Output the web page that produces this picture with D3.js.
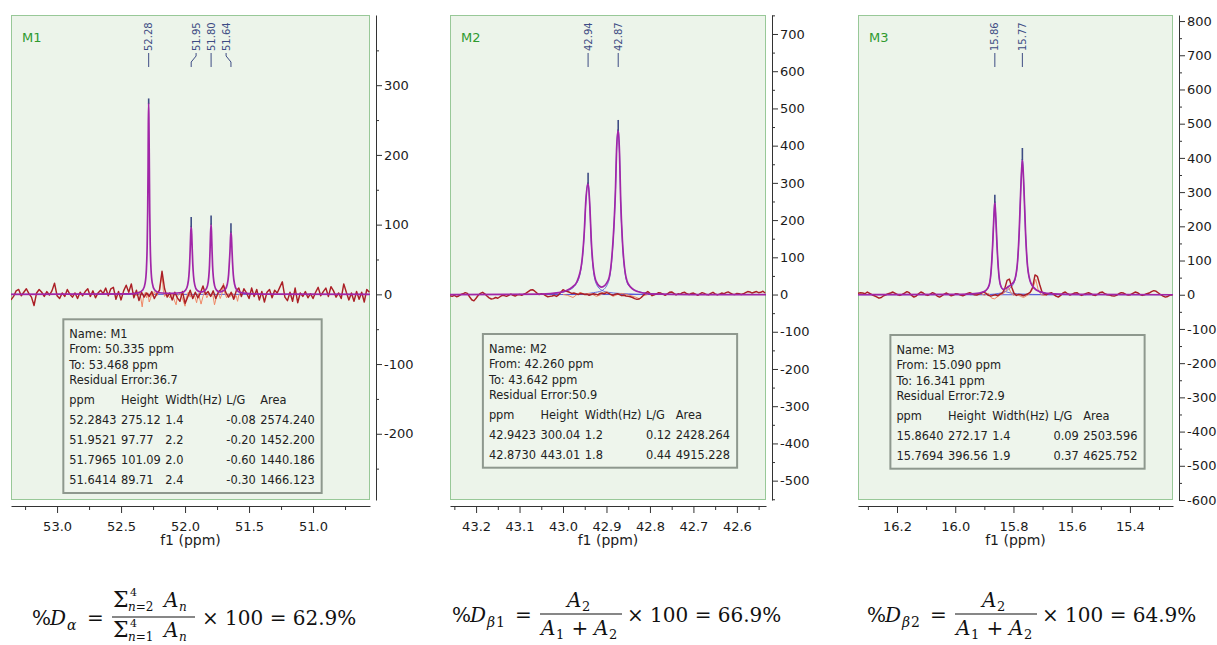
<!DOCTYPE html>
<html><head><meta charset="utf-8">
<script src="https://cdn.jsdelivr.net/npm/d3@7"></script>
<style>
html,body{margin:0;padding:0;background:#fff;overflow:hidden;}
svg{display:block;}
</style></head><body>
<svg id="chart" width="1217" height="645"></svg>
<script>
// ======================= DATA =======================
// ---- M1 ----
const m1Meta = ["M1", 50.335, 53.468, 36.7];           // name, from, to, residual error
const m1PeakPpm = [52.2843, 51.9521, 51.7965, 51.6414];
const m1PeakHeight = [275.12, 97.77, 101.09, 89.71];
const m1PeakWidth = [1.4, 2.2, 2.0, 2.4];
const m1PeakLG = [-0.08, -0.20, -0.60, -0.30];
const m1PeakArea = [2574.240, 1452.200, 1440.186, 1466.123];
const m1TopHeight = [281, 111, 113, 102];               // experimental apex
const m1NoiseStart = 53.36, m1NoiseStep = 0.02;
const m1Noise = [-8,-3,5,7,-2,3,8,1,-4,-16, 2,7,3,-3,4,-1,5,16,-2,-6, 2,-3,7,0,-4,2,-6,3,-2,4,
  8,-3,5,-5,2,6,1,9,-2,8, 10,-7,4,-8,5,13,3,15,-5,6, -9,3,-4,2,-3,4,-6,1,6,33,
  8,-4,2,-8,3,-5,-10,4,-13,-4, 6,-6,3,-5,2,12,0,4,-3,5, -6,3,7,13,2,-4,3,-7,5,9,
  -3,8,2,-6,9,-3,7,-8,4,-11, 3,7,-5,6,2,10,18,-4,-9,3, -10,9,-12,2,-3,4,-5,1,-6,3,
  10,-2,4,9,-3,11,5,-4,2,-6, 15,3,-8,2,-10,4,-7,3,-11,7,3];
const m1Fit = [[53.36,0],[52.44,0.6],[52.364,2.1],[52.329,6.5],[52.312,16],[52.302,36],[52.296,70],[52.292,119],[52.289,182],[52.287,244],[52.2843,275.12],[52.282,244],[52.279,182],[52.276,119],[52.272,70],[52.266,36],[52.256,16],[52.239,6.5],[52.204,2.3],[52.10,1.5],
  [52.022,2.6],[51.997,5.8],[51.980,13.3],[51.970,26.6],[51.964,44.7],[51.960,64.1],[51.956,86.5],[51.9521,97.77],[51.948,86.5],[51.944,64.1],[51.940,44.7],[51.934,26.6],[51.924,13.3],[51.907,6],[51.882,3.6],
  [51.866,3.6],[51.842,6],[51.825,12.2],[51.815,24.6],[51.809,41.5],[51.805,62],[51.801,87.3],[51.7965,101.09],[51.793,87.3],[51.789,62],[51.785,41.5],[51.779,24.6],[51.769,12.2],[51.752,5.5],[51.727,3.5],
  [51.712,4.2],[51.687,7],[51.670,14.5],[51.660,28],[51.654,45.5],[51.649,62],[51.645,80.7],[51.6414,89.71],[51.637,80.7],[51.633,62],[51.629,45.5],[51.623,28],[51.613,14.5],[51.596,6.3],[51.571,2.8],[51.50,1],[51.35,0.3],[50.555,0]];
const m1Resid = [[52.42,0],[52.40,3],[52.38,-2],[52.36,4],[52.345,-6],[52.335,-18],[52.325,-4],[52.31,3],[52.30,-5],[52.29,2],[52.28,-11],[52.27,-6],[52.26,2],[52.25,-3],[52.24,4],[52.22,-2],[52.20,5],[52.18,30],[52.17,6],[52.16,-3],[52.14,2],[52.12,-5],[52.10,1],[52.085,-8],[52.07,-15],[52.06,-3],[52.04,2],[52.02,-6],[52.00,-17],[51.99,-5],[51.975,3],[51.96,-4],[51.95,2],[51.94,-6],[51.925,-2],[51.91,-12],[51.895,1],[51.875,-14],[51.86,-3],[51.845,4],[51.83,-5],[51.815,1],[51.80,-3],[51.785,2],[51.77,-15],[51.755,-4],[51.74,3],[51.725,-6],[51.71,2],[51.70,16],[51.69,2],[51.675,-5],[51.66,1],[51.645,-3],[51.63,2],[51.615,-6],[51.60,-2],[51.59,-10],[51.58,-1],[51.56,0]];
const m1Comps = [];
const m1XTicks = [53.0, 52.5, 52.0, 51.5, 51.0];
const m1XMinor = [53.25, 52.75, 52.25, 51.75, 51.25, 50.75];
const m1YTicks = [-200, -100, 0, 100, 200, 300];
const m1YMinor = [-250, -150, -50, 50, 150, 250, 350];

// ---- M2 ----
const m2Meta = ["M2", 42.260, 43.642, 50.9];
const m2PeakPpm = [42.9423, 42.8730];
const m2PeakHeight = [300.04, 443.01];
const m2PeakWidth = [1.2, 1.8];
const m2PeakLG = [0.12, 0.44];
const m2PeakArea = [2428.264, 4915.228];
const m2TopHeight = [327, 469];
const m2NoiseStart = 43.26, m2NoiseStep = 0.005;
const m2Noise = [-3,-5,-2,-6,-4,0,2,5,3,-6, -14,-17,-10,-2,3,6,2,-4,-9,-12, -11,-8,-10,-6,-2,-3,-5,-2,1,-2,
  -4,-1,0,-2,1,4,8,12,13,9, 4,0,2,1,-3,-6,-5,-4,-2,-5, -1,6,13,10,8,6,3,4,2,0,
  3,2,0,1,-2,0,2,1,-1,3, 4,2,5,3,0,-2,1,2,0,-3, -2,-4,-5,-6,-8,-11,-13,-12,-8,-2,
  4,8,3,-3,-1,2,5,4,1,-2, 2,6,7,3,-1,2,1,5,6,2, 0,3,4,1,-2,2,5,3,0,-1,
  3,6,2,-1,1,4,2,5,7,4, 1,0,3,2,0,2,5,8,7,4, 6,8,5,6,9,4];
const m2Fit = [[43.26,0],[43.05,1],[43.01,5],[42.9917,11],[42.9787,20],[42.9687,33],[42.9572,83],[42.9513,164],[42.9474,253],[42.9423,300.04],[42.9382,236],[42.935,146],[42.9304,74],[42.9228,33],[42.9113,20],[42.8961,38],[42.8883,92],[42.883,181],[42.8791,289],[42.8768,388],[42.873,443.01],[42.870,380],[42.8673,253],[42.8634,146],[42.8586,74],[42.8501,29],[42.8308,9],[42.80,2],[42.70,0],[42.533,0]];
const m2Comp1 = [[43.02,3],[42.99,10],[42.9687,30],[42.9572,80],[42.9513,160],[42.9474,250],[42.9423,300],[42.9382,232],[42.935,140],[42.9304,68],[42.9228,27],[42.9113,12],[42.8961,6],[42.87,3],[42.83,1],[42.78,0]];
const m2Comp2 = [[43.0,0],[42.95,2],[42.93,5],[42.9113,10],[42.8961,32],[42.8883,86],[42.883,178],[42.8791,287],[42.8768,386],[42.873,443],[42.870,378],[42.8673,250],[42.8634,142],[42.8586,70],[42.8501,26],[42.8308,10],[42.81,4],[42.78,1],[42.72,0]];
const m2Resid = [[43.0,0],[42.99,-2],[42.977,-8],[42.969,-1],[42.961,6],[42.95,1],[42.94,3],[42.93,-1],[42.923,-5],[42.912,0],[42.9,8],[42.892,2],[42.885,-5],[42.875,0],[42.865,3],[42.85,-1],[42.835,-6],[42.823,-12],[42.815,-3],[42.805,0]];
const m2XTicks = [43.2, 43.1, 43.0, 42.9, 42.8, 42.7, 42.6];
const m2XMinor = [43.25, 43.15, 43.05, 42.95, 42.85, 42.75, 42.65, 42.55];
const m2YTicks = [-500, -400, -300, -200, -100, 0, 100, 200, 300, 400, 500, 600, 700];
const m2YMinor = [-550, -450, -350, -250, -150, -50, 50, 150, 250, 350, 450, 550, 650, 750];

// ---- M3 ----
const m3Meta = ["M3", 15.090, 16.341, 72.9];
const m3PeakPpm = [15.8640, 15.7694];
const m3PeakHeight = [272.17, 396.56];
const m3PeakWidth = [1.4, 1.9];
const m3PeakLG = [0.09, 0.37];
const m3PeakArea = [2503.596, 4625.752];
const m3TopHeight = [292, 429];
const m3NoiseStart = 16.334, m3NoiseStep = 0.008;
const m3Noise = [4,6,5,3,8,4,0,-3,-6,-10, -8,-3,0,3,5,8,4,0,-2,1, 5,9,6,-2,-7,-4,3,8,5,0,
  -2,2,6,3,-4,-7,-3,2,5,1, -3,-1,3,2,-1,-3,0,4,6,3, 0,-1,2,5,8,4,-2,-4,-2,0,
  -3,2,5,18,42,46,22,4,-2,1, 0,-3,0,3,8,22,58,54,30,8, 2,0,4,6,1,-4,-7,-2,5,8,
  3,-1,2,5,6,1,-2,1,4,6, 3,-1,-2,2,7,8,3,0,-1,-3, -4,-2,3,6,5,1,-1,0,4,8,
  6,1,-2,0,3,5,9,12,10,5, 0,-4,-7,-5,-1,0];
const m3Fit = [[16.334,0],[15.98,1],[15.933,3],[15.9052,8],[15.8932,14],[15.8829,30],[15.876,78],[15.8715,145],[15.8674,225],[15.864,272.17],[15.8606,225],[15.8565,145],[15.852,78],[15.8451,30],[15.8348,16],[15.8265,18],[15.8174,24],[15.7986,38],[15.7872,85],[15.7804,181],[15.7745,317],[15.7694,396.56],[15.7643,317],[15.7584,180],[15.7516,83],[15.7402,34],[15.7214,14],[15.6871,4],[15.6,1],[15.252,0]];
const m3Comp1 = [[15.95,1],[15.9052,7],[15.8932,13],[15.8829,29],[15.876,77],[15.8715,144],[15.8674,224],[15.864,272],[15.8606,224],[15.8565,144],[15.852,77],[15.8451,29],[15.8348,13],[15.8229,8],[15.80,4],[15.77,2],[15.70,0.5],[15.65,0]];
const m3Comp2 = [[15.95,0],[15.88,1],[15.85,4],[15.8348,7],[15.8229,12],[15.8174,16],[15.7986,34],[15.7872,83],[15.7804,180],[15.7745,317],[15.7694,396],[15.7643,317],[15.7584,180],[15.7516,83],[15.7402,34],[15.7214,14],[15.6871,4],[15.62,1],[15.55,0]];
const m3Resid = [[15.93,0],[15.91,3],[15.90,-2],[15.885,4],[15.875,-10],[15.865,-12],[15.855,-6],[15.845,0],[15.835,3],[15.826,10],[15.8184,25],[15.81,8],[15.80,-2],[15.79,2],[15.775,-5],[15.765,-8],[15.755,-3],[15.745,2],[15.735,15],[15.7234,45],[15.715,14],[15.705,0],[15.695,-2],[15.685,0]];
const m3XTicks = [16.2, 16.0, 15.8, 15.6, 15.4];
const m3XMinor = [16.3, 16.1, 15.9, 15.7, 15.5, 15.3];
const m3YTicks = [-600, -500, -400, -300, -200, -100, 0, 100, 200, 300, 400, 500, 600, 700, 800];
const m3YMinor = [-550, -450, -350, -250, -150, -50, 50, 150, 250, 350, 450, 550, 650, 750];

const tableHeader = ["ppm", "Height", "Width(Hz)", "L/G", "Area"];

// ======================= STYLE =======================
const SANS = "'DejaVu Sans', Verdana, sans-serif";
const SERIF = "'DejaVu Serif', serif";
const BG = "#ecf4ea", BORDER = "#98c898";
const RED = "#ab1f26", PURPLE = "#a126a8", BLUE = "#5558d8", ORANGE = "#f08866", NAVY = "#3e4c84";
const svg = d3.select("#chart");
const defs = svg.append("defs");

function drawPanel(o) {
  const x = d3.scaleLinear().domain(o.xDomain).range([o.left, o.right]);
  const y = d3.scaleLinear().domain(o.yDomain).range([o.bottom, o.top]);
  const g = svg.append("g");
  const clipId = "clip" + o.meta[0];
  defs.append("clipPath").attr("id", clipId).append("rect")
    .attr("x", o.left).attr("y", o.top).attr("width", o.right - o.left).attr("height", o.bottom - o.top);
  g.append("rect").attr("x", o.left + 0.5).attr("y", o.top + 0.5)
    .attr("width", o.right - o.left - 1).attr("height", o.bottom - o.top - 1)
    .attr("fill", BG).attr("stroke", BORDER).attr("stroke-width", 1);

  const pg = g.append("g").attr("clip-path", `url(#${clipId})`).attr("fill", "none");
  const lin = d3.line().x(d => x(d[0])).y(d => y(d[1]));
  const smooth = d3.line().x(d => x(d[0])).y(d => y(d[1])).curve(d3.curveMonotoneX);

  // individual components (blue) + baseline
  pg.append("path").datum([[o.xDomain[0], 0], [o.xDomain[1], 0]]).attr("d", lin)
    .attr("stroke", BLUE).attr("stroke-width", 1);
  o.comps.forEach(c => pg.append("path").datum(c).attr("d", smooth).attr("stroke", BLUE).attr("stroke-width", 0.9));
  // residual
  pg.append("path").datum(o.resid).attr("d", lin).attr("stroke", ORANGE).attr("stroke-width", 1);
  // experimental trace
  const noise = o.noise.map((v, i) => [o.noiseStart - o.noiseStep * i, v]);
  pg.append("path").datum(noise).attr("d", lin).attr("stroke", RED).attr("stroke-width", 1.45)
    .attr("stroke-linejoin", "round");
  // fitted sum
  pg.append("path").datum(o.fit).attr("d", smooth).attr("stroke", PURPLE).attr("stroke-width", 1.7);
  // experimental apex above fit
  pg.selectAll("line.tip").data(o.peakPpm).join("line").attr("class", "tip")
    .attr("x1", d => x(d)).attr("x2", d => x(d))
    .attr("y1", (d, i) => y(o.peakHeight[i]) + 1).attr("y2", (d, i) => y(o.topHeight[i]))
    .attr("stroke", NAVY).attr("stroke-width", 1.6);

  // panel name
  g.append("text").attr("x", o.left + 11).attr("y", o.top + 27).attr("font-family", SANS)
    .attr("font-size", 13).attr("fill", "#2f9a2f").text(o.meta[0]);

  // peak labels
  const px = o.peakPpm.map(p => x(p));
  const lx = px.slice();
  let clusters = [], cur = [0];
  for (let i = 1; i < px.length; i++) {
    if (px[i] - px[i - 1] < 24) cur.push(i); else { clusters.push(cur); cur = [i]; }
  }
  clusters.push(cur);
  clusters.forEach(c => {
    const m = d3.mean(c, i => px[i]);
    c.forEach((i, k) => { lx[i] = m + (k - (c.length - 1) / 2) * 15; });
  });
  o.peakPpm.forEach((p, i) => {
    g.append("text").attr("transform", `translate(${lx[i]},51) rotate(-90)`).attr("dy", "0.36em")
      .attr("font-family", SANS).attr("font-size", 10).attr("fill", NAVY).text(p.toFixed(2));
    g.append("path").attr("d", `M${lx[i]},53 L${lx[i]},56 L${px[i]},62 L${px[i]},67`)
      .attr("fill", "none").attr("stroke", NAVY).attr("stroke-width", 1);
  });

  // y axis (right)
  const yAxisX = o.right + 6;
  const fmtY = d => d < 0 ? "-" + Math.abs(d) : String(d);
  g.append("g").attr("transform", `translate(${yAxisX},0)`)
    .call(d3.axisRight(y).tickValues(o.yTicks).tickSize(6).tickSizeOuter(0).tickPadding(2).tickFormat(fmtY));
  g.append("g").attr("transform", `translate(${yAxisX},0)`)
    .call(d3.axisRight(y).tickValues(o.yMinor).tickSize(3).tickSizeOuter(0).tickFormat(""))
    .select(".domain").remove();
  // x axis
  g.append("g").attr("transform", `translate(0,${o.bottom + 6})`)
    .call(d3.axisBottom(x).tickValues(o.xTicks).tickSize(7).tickSizeOuter(0).tickPadding(9).tickFormat(d3.format(".1f")));
  g.append("g").attr("transform", `translate(0,${o.bottom + 6})`)
    .call(d3.axisBottom(x).tickValues(o.xMinor).tickSize(4).tickSizeOuter(0).tickFormat(""))
    .select(".domain").remove();
  g.selectAll(".tick text").attr("font-family", SANS).attr("font-size", 13).attr("fill", "#1b1b1b");
  g.selectAll(".domain, .tick line").attr("stroke", "#333");
  g.append("text").attr("x", (o.left + o.right) / 2).attr("y", o.bottom + 45).attr("text-anchor", "middle")
    .attr("font-family", SANS).attr("font-size", 14).attr("fill", "#1b1b1b").text("f1 (ppm)");

  // legend table
  const rows = o.peakPpm.map((p, i) => [p.toFixed(4), o.peakHeight[i].toFixed(2), o.peakWidth[i].toFixed(1),
    o.peakLG[i].toFixed(2), o.peakArea[i].toFixed(3)]);
  const FS = 11.4;
  const meas = svg.append("text").attr("font-family", SANS).attr("font-size", FS);
  const wOf = s => { meas.text(s); return meas.node().getComputedTextLength(); };
  const colW = tableHeader.map((h, c) => Math.max(wOf(h), ...rows.map(r => wOf(r[c]))));
  meas.remove();
  const colX = [6];
  for (let c = 1; c < colW.length; c++) colX.push(colX[c - 1] + colW[c - 1] + 4.5);
  const bw = colX[colX.length - 1] + colW[colW.length - 1] + 7;
  const bt = o.legendTop;
  const lastBase = 105.2 + 20 * (rows.length - 1);
  const bh = lastBase + 8.5;
  const bx = (o.left + o.right) / 2 - bw / 2 + 2;
  const lg = g.append("g").attr("transform", `translate(${bx},${bt})`);
  lg.append("rect").attr("x", 0).attr("y", 0).attr("width", bw).attr("height", bh)
    .attr("fill", "#eef5ec").attr("stroke", "#8e988e").attr("stroke-width", 2);
  const head = [`Name: ${o.meta[0]}`, `From: ${o.meta[1].toFixed(3)} ppm`, `To: ${o.meta[2].toFixed(3)} ppm`,
    `Residual Error:${o.meta[3].toFixed(1)}`];
  const tt = (s, xx, yy) => lg.append("text").attr("x", xx).attr("y", yy).attr("font-family", SANS)
    .attr("font-size", FS).attr("fill", "#222").text(s);
  head.forEach((s, i) => tt(s, 6, 18.7 + 15.5 * i));
  tableHeader.forEach((h, c) => tt(h, colX[c], 85.2));
  rows.forEach((r, k) => r.forEach((s, c) => tt(s, colX[c], 105.2 + 20 * k)));
}

drawPanel({meta: m1Meta, left: 11, right: 370, top: 15, bottom: 500, xDomain: [53.36, 50.555], yDomain: [-295, 400.7],
  legendTop: 319.3, peakPpm: m1PeakPpm, peakHeight: m1PeakHeight, peakWidth: m1PeakWidth, peakLG: m1PeakLG,
  peakArea: m1PeakArea, topHeight: m1TopHeight, noise: m1Noise, noiseStart: m1NoiseStart, noiseStep: m1NoiseStep,
  fit: m1Fit, resid: m1Resid, comps: m1Comps, xTicks: m1XTicks, xMinor: m1XMinor, yTicks: m1YTicks, yMinor: m1YMinor});
drawPanel({meta: m2Meta, left: 450, right: 766, top: 15, bottom: 500, xDomain: [43.26, 42.533], yDomain: [-552, 751],
  legendTop: 334, peakPpm: m2PeakPpm, peakHeight: m2PeakHeight, peakWidth: m2PeakWidth, peakLG: m2PeakLG,
  peakArea: m2PeakArea, topHeight: m2TopHeight, noise: m2Noise, noiseStart: m2NoiseStart, noiseStep: m2NoiseStep,
  fit: m2Fit, resid: m2Resid, comps: [m2Comp1, m2Comp2], xTicks: m2XTicks, xMinor: m2XMinor, yTicks: m2YTicks, yMinor: m2YMinor});
drawPanel({meta: m3Meta, left: 858, right: 1173, top: 15, bottom: 500, xDomain: [16.334, 15.252], yDomain: [-600, 817.7],
  legendTop: 335, peakPpm: m3PeakPpm, peakHeight: m3PeakHeight, peakWidth: m3PeakWidth, peakLG: m3PeakLG,
  peakArea: m3PeakArea, topHeight: m3TopHeight, noise: m3Noise, noiseStart: m3NoiseStart, noiseStep: m3NoiseStep,
  fit: m3Fit, resid: m3Resid, comps: [m3Comp1, m3Comp2], xTicks: m3XTicks, xMinor: m3XMinor, yTicks: m3YTicks, yMinor: m3YMinor});

// ======================= FORMULAS =======================
const fg = svg.append("g").attr("fill", "#111");
function T(s, x, y, size, italic, anchor) {
  const t = fg.append("text").attr("x", x).attr("y", y).attr("font-family", SERIF).attr("font-size", size).text(s);
  if (italic) t.attr("font-style", "italic");
  if (anchor) t.attr("text-anchor", anchor);
  return t;
}
const pct = v => d3.format(".1f")(v) + "%";
const dAlpha = d3.sum(m1PeakArea.slice(1)) / d3.sum(m1PeakArea) * 100;
const dBeta1 = m2PeakArea[1] / d3.sum(m2PeakArea) * 100;
const dBeta2 = m3PeakArea[1] / d3.sum(m3PeakArea) * 100;

// %D_alpha
T("%", 32, 625, 20); T("D", 50, 625, 20, true); T("α", 67, 630, 14, true);
T("=", 95.5, 625, 20, false, "middle");
fg.append("line").attr("x1", 112).attr("x2", 195).attr("y1", 617).attr("y2", 617).attr("stroke", "#111").attr("stroke-width", 1.2);
// numerator
T("Σ", 113, 607, 22); T("4", 130, 596, 11);
T("n", 128, 610.5, 12, true); T("=2", 135.8, 610.5, 12);
T("A", 164, 607, 20, true); T("n", 179, 610.5, 12, true);
// denominator
T("Σ", 113, 637, 22); T("4", 130, 627, 11);
T("n", 128, 640.5, 12, true); T("=1", 135.8, 640.5, 12);
T("A", 164, 637, 20, true); T("n", 179, 640.5, 12, true);
T("× 100 = " + pct(dAlpha), 202, 625, 20);

// %D_beta1 and %D_beta2
[[0, "1", dBeta1], [415, "2", dBeta2]].forEach(([dx, sub, val]) => {
  T("%", 452 + dx, 622, 20); T("D", 470 + dx, 622, 20, true);
  T("β", 487 + dx, 627, 14, true); T(sub, 496 + dx, 627, 14);
  T("=", 523.5 + dx, 622, 20, false, "middle");
  fg.append("line").attr("x1", 540 + dx).attr("x2", 622 + dx).attr("y1", 614).attr("y2", 614).attr("stroke", "#111").attr("stroke-width", 1.2);
  T("A", 567 + dx, 607, 20, true); T("2", 582 + dx, 611, 13);
  T("A", 541 + dx, 635, 20, true); T("1", 556 + dx, 639, 13);
  T("+", 580 + dx, 635, 20, false, "middle");
  T("A", 594 + dx, 635, 20, true); T("2", 609 + dx, 639, 13);
  T("× 100 = " + pct(val), 627 + dx, 622, 20);
});
</script></body></html>
